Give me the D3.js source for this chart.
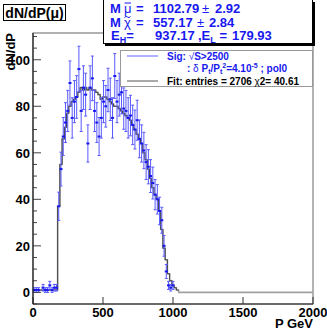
<!DOCTYPE html>
<html>
<head>
<meta charset="utf-8">
<script src="https://cdn.jsdelivr.net/npm/d3@7"></script>
<style>
  body { margin: 0; background: #fff; }
  svg { display: block; font-family: "Liberation Sans", Arial, sans-serif; }
</style>
</head>
<body>
<div id="chart"></div>
<script>
// histogram, 16 GeV bins from 0 to 2000
const binWidth = 16;
const nBins = 125;

// measured points (bins 0..64), blue with sqrt(N) errors
const sigCounts = [
  1, 1, 1, 0, 2, 1, 1, 3, 1, 2, 2,
  37, 53, 67, 73, 78, 90, 75, 82, 84, 96,
  78, 88, 85, 64, 88, 92, 78, 73, 67, 75,
  82, 80, 87, 83, 75, 93, 82, 85, 86, 79,
  78, 75, 76, 72, 70, 74, 66, 64, 61, 56,
  54, 50, 47, 42, 40, 35, 31, 20, 9, 3,
  2, 3
];

// fitted histogram (bins 0..64), zero afterwards
const fitCounts = [
  1, 1, 1, 1, 1, 1, 1, 1, 1, 1, 1,
  37, 55, 66, 71, 77, 80, 82, 83, 84, 86,
  88, 87, 88, 87, 88, 87, 87, 86, 85, 83,
  84, 84, 83, 82, 81, 80, 80, 79, 78, 77,
  76, 75, 74, 72, 70, 68, 66, 64, 60, 57,
  53, 49, 45, 42, 40, 35, 27, 19, 14, 8,
  5, 3, 2, 1
];

const xTicks = [0, 500, 1000, 1500, 2000];
const yTicks = [0, 20, 40, 60, 80, 100];

const statsLines = [
  { name: "M", greek: "\u03bc", mark: "bar", value: "1102.79", err: "2.92" },
  { name: "M", greek: "\u03c7", mark: "tilde", value: "557.17", err: "2.84" }
];
const edgeHigh = "937.17";
const edgeLow = "179.93";
const entries = 2706;
const chi2 = "40.61";

const W = 327, H = 331;
const blue = "#1818f0";

const svg = d3.select("#chart").append("svg")
  .attr("width", W).attr("height", H);

const x = d3.scaleLinear().domain([0, 2000]).range([33, 313]);
const y = d3.scaleLinear().domain([-5, 111.5]).range([304, 33]);

// frame
svg.append("rect")
  .attr("x", x(0)).attr("y", y(111.5))
  .attr("width", x(2000) - x(0)).attr("height", y(-5) - y(111.5))
  .attr("fill", "none").attr("stroke", "#666").attr("stroke-width", 1);

// fit histogram as steps
const fitAll = d3.range(nBins).map(i => fitCounts[i] || 0);
const stepPts = [];
fitAll.forEach((v, i) => {
  stepPts.push([i * binWidth, v]);
  stepPts.push([(i + 1) * binWidth, v]);
});
const line = d3.line().x(d => x(d[0])).y(d => y(d[1]));

svg.append("path")
  .attr("d", line(stepPts))
  .attr("fill", "none").attr("stroke", "#a0a0a0").attr("stroke-width", 1.6);

svg.append("path")
  .attr("d", line(stepPts.slice(0, fitCounts.length * 2)))
  .attr("fill", "none").attr("stroke", "#3a3a3a").attr("stroke-width", 0.9);

// data points with error bars
const pts = sigCounts
  .map((v, i) => ({ c: (i + 0.5) * binWidth, v: v }))
  .filter(d => d.v > 0);

const g = svg.append("g");
pts.forEach(d => {
  const e = Math.sqrt(d.v);
  const cx = x(d.c);
  g.append("line")
    .attr("x1", cx).attr("x2", cx)
    .attr("y1", y(d.v + e)).attr("y2", y(d.v - e))
    .attr("stroke", "#5858ff").attr("stroke-width", 1);
  [d.v + e, d.v - e].forEach(t => {
    g.append("line")
      .attr("x1", cx - 1.5).attr("x2", cx + 1.5)
      .attr("y1", y(t)).attr("y2", y(t))
      .attr("stroke", "#5858ff").attr("stroke-width", 1);
  });
  g.append("rect")
    .attr("x", cx - 1.5).attr("y", y(d.v) - 1)
    .attr("width", 3).attr("height", 2)
    .attr("fill", blue);
});

// x axis
const xAxis = svg.append("g");
xTicks.forEach(t => {
  xAxis.append("line")
    .attr("x1", x(t)).attr("x2", x(t))
    .attr("y1", y(-5)).attr("y2", y(-5) - 7)
    .attr("stroke", "#333");
  xAxis.append("text")
    .attr("x", x(t)).attr("y", 317)
    .attr("text-anchor", "middle")
    .attr("font-size", 13).attr("font-weight", "bold")
    .text(t);
});
svg.append("line")
  .attr("x1", x(0)).attr("x2", x(2000))
  .attr("y1", y(-5)).attr("y2", y(-5))
  .attr("stroke", "#222").attr("stroke-width", 1.2);

// y axis
const yAxis = svg.append("g");
d3.range(-5, 111, 5).forEach(t => {
  const major = t % 20 === 0;
  yAxis.append("line")
    .attr("x1", x(0)).attr("x2", x(0) + (major ? 8 : 4))
    .attr("y1", y(t)).attr("y2", y(t))
    .attr("stroke", "#444");
});
yTicks.forEach(t => {
  yAxis.append("text")
    .attr("x", 30).attr("y", y(t) + 5)
    .attr("text-anchor", "end")
    .attr("font-size", 13).attr("font-weight", "bold")
    .text(t);
});
svg.append("line")
  .attr("x1", x(0)).attr("x2", x(0))
  .attr("y1", y(-5)).attr("y2", y(111.5))
  .attr("stroke", "#222").attr("stroke-width", 1.2);

// axis titles
svg.append("text")
  .attr("transform", "translate(15,33) rotate(-90)")
  .attr("text-anchor", "end")
  .attr("font-size", 13).attr("font-weight", "bold")
  .text("dN/dP");

svg.append("text")
  .attr("x", 313).attr("y", 328)
  .attr("text-anchor", "end")
  .attr("font-size", 13).attr("font-weight", "bold")
  .text("P GeV");

// title box
svg.append("rect")
  .attr("x", 3.5).attr("y", 4.5).attr("width", 62).attr("height", 16)
  .attr("fill", "#fff").attr("stroke", "#000");
svg.append("text")
  .attr("x", 34.5).attr("y", 17.5)
  .attr("text-anchor", "middle")
  .attr("font-size", 14).attr("font-weight", "bold")
  .text("dN/dP(\u03bc)");

// stats box with shadow
svg.append("rect")
  .attr("x", 105).attr("y", 2).attr("width", 210).attr("height", 44)
  .attr("fill", "#000");
svg.append("rect")
  .attr("x", 103.5).attr("y", -0.5).attr("width", 209).attr("height", 44)
  .attr("fill", "#fff").attr("stroke", "#000");

const stats = svg.append("g")
  .attr("fill", blue).attr("font-size", 13).attr("font-weight", "bold");

statsLines.forEach((s, i) => {
  const by = 13 + i * 14;
  stats.append("text").attr("x", 110).attr("y", by).text(s.name);
  stats.append("text").attr("x", 124).attr("y", by)
    .attr("font-weight", "normal").text(s.greek);
  if (s.mark === "bar") {
    stats.append("line")
      .attr("x1", 124.5).attr("x2", 131).attr("y1", by - 10).attr("y2", by - 10)
      .attr("stroke", blue).attr("stroke-width", 1);
  } else {
    stats.append("path")
      .attr("d", `M124.5,${by - 9.5} q1.5,-2 3,-0.5 t3,-0.5`)
      .attr("fill", "none").attr("stroke", blue).attr("stroke-width", 1);
  }
  stats.append("text").attr("x", 136).attr("y", by).text("=");
  stats.append("text").attr("x", 153).attr("y", by).text(s.value);
  stats.append("text").attr("x", i === 0 ? 202 : 197).attr("y", by)
    .attr("font-weight", "normal").text("\u00b1");
  stats.append("text").attr("x", i === 0 ? 215 : 209).attr("y", by).text(s.err);
});
const l3 = stats.append("text").attr("x", 111).attr("y", 40);
l3.append("tspan").text("E");
l3.append("tspan").attr("font-size", 9).attr("dy", 3).text("H");
l3.append("tspan").attr("dy", -3).text("=");
stats.append("text").attr("x", 155).attr("y", 40).text(edgeHigh);
const l3b = stats.append("text").attr("x", 198).attr("y", 40);
l3b.append("tspan").text(",E");
l3b.append("tspan").attr("font-size", 9).attr("dy", 3).text("L");
l3b.append("tspan").attr("dy", -3).text(" =");
stats.append("text").attr("x", 232).attr("y", 40).text(edgeLow);

// legend box
svg.append("rect")
  .attr("x", 120.5).attr("y", 50.5).attr("width", 192).attr("height", 36)
  .attr("fill", "#fff").attr("stroke", "#999");

const leg = svg.append("g").attr("font-size", 10).attr("font-weight", "bold");
leg.append("line")
  .attr("x1", 127).attr("x2", 158).attr("y1", 56).attr("y2", 56)
  .attr("stroke", "#6060ff");
const s1 = leg.append("text").attr("x", 167).attr("y", 59.5).attr("fill", blue);
s1.append("tspan").text("Sig: ");
s1.append("tspan").attr("font-weight", "normal").text("\u221a");
s1.append("tspan").text("S>2500");

const s2 = leg.append("text").attr("x", 187).attr("y", 72).attr("fill", blue);
s2.append("tspan").text(": ");
s2.append("tspan").attr("font-weight", "normal").text("\u03b4");
s2.append("tspan").text(" P");
s2.append("tspan").attr("font-size", 7).attr("dy", 2).text("t");
s2.append("tspan").attr("dy", -2).text("/P");
s2.append("tspan").attr("font-size", 7).attr("dy", 2).text("t");
s2.append("tspan").attr("font-size", 7).attr("dy", -6).text("2");
s2.append("tspan").attr("dy", 4).text("=4.10");
s2.append("tspan").attr("font-size", 7).attr("dy", -4).text("-5");
s2.append("tspan").attr("dy", 4).text(" ; pol0");

leg.append("line")
  .attr("x1", 127).attr("x2", 158).attr("y1", 81).attr("y2", 81)
  .attr("stroke", "#555");
const s3 = leg.append("text").attr("x", 167).attr("y", 84.5).attr("fill", "#000");
s3.append("tspan").text(`Fit: entries =  ${entries} `);
s3.append("tspan").attr("font-weight", "normal").text("\u03c7");
s3.append("tspan").text(`2= ${chi2}`);
</script>
</body>
</html>
